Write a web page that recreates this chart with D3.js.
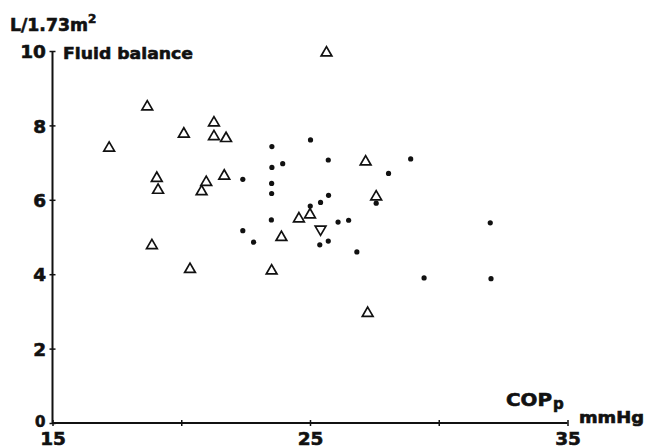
<!DOCTYPE html>
<html>
<head>
<meta charset="utf-8">
<script src="https://cdn.jsdelivr.net/npm/d3@7"></script>
<style>
  body { margin: 0; background: #fff; }
  svg { display: block; }
  text { font-family: "DejaVu Sans", sans-serif; font-weight: bold; fill: #111; stroke: #111; stroke-width: 0.6px; }
</style>
</head>
<body>
<script>

// open triangles (x = COPp mmHg, y = fluid balance L/1.73m2)
var triX = [25.64, 18.68, 17.20, 20.10, 21.27, 21.27, 21.74, 19.05, 19.10, 20.97, 20.79,
            21.67, 18.86, 20.34, 23.51, 23.89, 24.57, 25.00, 27.16, 27.57, 27.24];
var triY = [9.95, 8.50, 7.39, 7.77, 8.07, 7.70, 7.65, 6.58, 6.26, 6.47, 6.22,
            6.64, 4.77, 4.13, 4.09, 4.99, 5.49, 5.60, 7.02, 6.08, 2.95];

// the one inverted triangle
var downX = [25.41];
var downY = [5.21];

// filled dots
var dotX = [23.52, 25.02, 25.71, 23.52, 23.94, 22.39, 23.51, 23.51, 28.91, 28.05, 27.57,
            25.72, 25.41, 25.01, 23.50, 26.09, 26.50, 22.39, 22.81, 25.71, 25.38, 26.82,
            32.00, 29.43, 32.03];
var dotY = [7.43, 7.61, 7.07, 6.87, 6.97, 6.55, 6.44, 6.17, 7.10, 6.71, 5.91,
            6.12, 5.93, 5.83, 5.46, 5.40, 5.45, 5.17, 4.86, 4.89, 4.79, 4.60,
            5.38, 3.90, 3.88];

// tick labels
var xTicks = [15, 20, 25, 30, 35];
var xLabels = ["15", "", "25", "", "35"];
var yTicks = [0, 2, 4, 6, 8, 10];

window.onload = function() {

  var w = 646,
      h = 448;

  var svg = d3.select("body")
    .append("svg")
    .attr("width", w)
    .attr("height", h);

  // scales
  var x_scale = d3.scaleLinear()
    .domain([15, 35])
    .range([52.5, 567.5]);

  var y_scale = d3.scaleLinear()
    .domain([0, 10])
    .range([423, 51]);

  // x axis
  var xAxis = d3.axisBottom(x_scale)
    .tickValues(xTicks)
    .tickSize(3)
    .tickPadding(6)
    .tickFormat(function(d, i) { return xLabels[i]; });

  var gX = svg.append("g")
    .attr("transform", "translate(0," + y_scale(0) + ")")
    .call(xAxis);

  gX.select(".domain").attr("d", "M" + x_scale(15) + ",0H" + x_scale(35));

  // y axis
  var yAxis = d3.axisLeft(y_scale)
    .tickValues(yTicks)
    .tickSize(3)
    .tickPadding(3.5)
    .tickFormat(d3.format("d"));

  var gY = svg.append("g")
    .attr("transform", "translate(" + x_scale(15) + ",0)")
    .call(yAxis);

  gY.select(".domain").attr("d", "M0," + y_scale(0) + "V" + y_scale(10));

  // style both axes: thick line, ticks crossing the axis
  svg.selectAll(".domain")
    .attr("stroke", "#111")
    .attr("stroke-width", 2)
    .attr("fill", "none");

  gX.selectAll(".tick line")
    .attr("y1", -3).attr("y2", 3)
    .attr("stroke", "#111").attr("stroke-width", 1.5);

  gY.selectAll(".tick line")
    .attr("x1", -3).attr("x2", 3)
    .attr("stroke", "#111").attr("stroke-width", 1.5);

  svg.selectAll(".tick text")
    .attr("font-family", "DejaVu Sans")
    .attr("font-weight", "bold")
    .attr("font-size", 18.5)
    .attr("fill", "#111");

  gX.selectAll(".tick text").attr("dy", "0.7em");
  gY.selectAll(".tick text").attr("dy", "0.36em");

  // the origin "0" is printed a little smaller and higher
  gY.selectAll(".tick text")
    .filter(function(d) { return d === 0; })
    .attr("font-size", 15)
    .attr("dy", "0.25em")
    .attr("x", -7);

  // open triangles
  var triUp = d3.symbol().type(d3.symbolTriangle).size(50);

  svg.selectAll(".tri")
    .data(triX)
    .enter()
    .append("path")
    .attr("class", "tri")
    .attr("d", triUp)
    .attr("transform", function(d, i) {
      return "translate(" + x_scale(d) + "," + y_scale(triY[i]) + ")";
    })
    .attr("fill", "none")
    .attr("stroke", "#111")
    .attr("stroke-width", 1.7);

  svg.selectAll(".tridown")
    .data(downX)
    .enter()
    .append("path")
    .attr("class", "tridown")
    .attr("d", triUp)
    .attr("transform", function(d, i) {
      return "translate(" + x_scale(d) + "," + y_scale(downY[i]) + ") rotate(180)";
    })
    .attr("fill", "none")
    .attr("stroke", "#111")
    .attr("stroke-width", 1.7);

  // filled dots
  svg.selectAll(".dot")
    .data(dotX)
    .enter()
    .append("circle")
    .attr("class", "dot")
    .attr("cx", function(d) { return x_scale(d); })
    .attr("cy", function(d, i) { return y_scale(dotY[i]); })
    .attr("r", 2.6)
    .attr("fill", "#111");

  // titles
  var unit = svg.append("text")
    .attr("x", 10)
    .attr("y", 31)
    .attr("font-size", 17.5);
  unit.append("tspan")
    .attr("textLength", 78)
    .attr("lengthAdjust", "spacingAndGlyphs")
    .text("L/1.73m");
  unit.append("tspan")
    .attr("font-size", 12)
    .attr("dy", -8)
    .text("2");

  svg.append("text")
    .attr("x", 63)
    .attr("y", 59)
    .attr("font-size", 16.5)
    .attr("textLength", 130)
    .attr("lengthAdjust", "spacingAndGlyphs")
    .text("Fluid balance");

  svg.append("text")
    .attr("x", 506)
    .attr("y", 406)
    .attr("font-size", 18)
    .attr("textLength", 46)
    .attr("lengthAdjust", "spacingAndGlyphs")
    .text("COP");

  svg.append("text")
    .attr("x", 553)
    .attr("y", 409)
    .attr("font-size", 15)
    .text("p");

  svg.append("text")
    .attr("x", 579)
    .attr("y", 423)
    .attr("font-size", 15)
    .attr("textLength", 65)
    .attr("lengthAdjust", "spacingAndGlyphs")
    .text("mmHg");

};
</script>
</body>
</html>
